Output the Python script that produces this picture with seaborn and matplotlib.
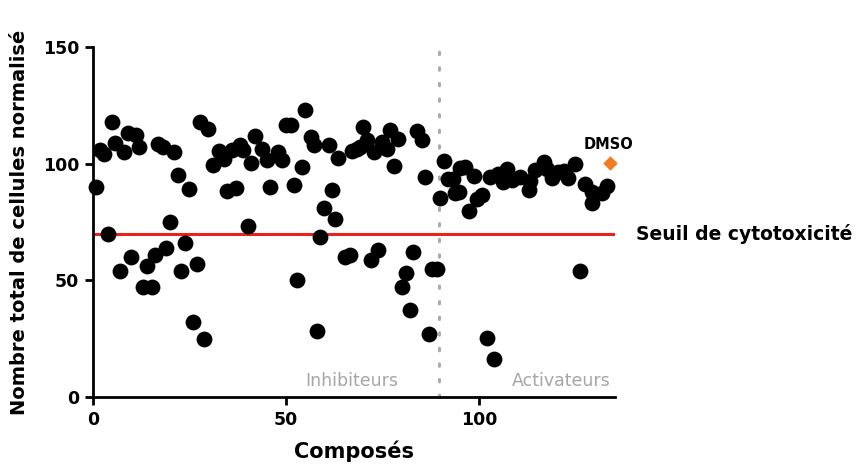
import numpy as np
import pandas as pd
import matplotlib
matplotlib.use("Agg")
import matplotlib.pyplot as plt
import seaborn as sns

# composés (index) et nombre total de cellules normalisé
compose_x = [
    0.9, 1.8, 2.8, 3.9, 4.8, 5.8, 6.9, 7.9, 9.0, 9.8,
    11.1, 12.0, 13.0, 13.9, 15.2, 16.0, 16.9, 18.2, 18.9, 19.9,
    21.0, 22.0, 22.9, 23.9, 24.9, 26.0, 27.0, 27.7, 28.8, 29.8,
    31.1, 32.5, 33.9, 34.6, 36.0, 37.0, 38.0, 38.9, 40.1, 40.8,
    41.9, 43.7, 44.9, 45.8, 47.9, 48.8, 50.0, 51.2, 51.9, 52.8,
    54.0, 54.9, 56.5, 57.2, 57.9, 58.8, 59.8, 61.0, 61.8, 62.6,
    63.5, 65.3, 66.4, 67.0, 68.3, 69.1, 69.8, 70.9, 71.9, 72.6,
    73.8, 74.7, 76.0, 76.9, 77.9, 78.8, 80.0, 81.0, 81.9, 82.9,
    83.8, 85.1, 85.8, 87.0, 87.8, 89.0,
    89.8, 90.8, 91.9, 93.2, 93.7, 94.6, 95.0, 96.2, 97.2, 98.5,
    99.3, 100.6, 101.9, 102.8, 103.8, 104.9, 106.2, 107.1, 108.3, 110.6,
    112.7, 113.1, 114.4, 116.6, 117.4, 118.7, 120.3, 121.8, 122.9, 124.7,
    125.9, 127.4, 129.2, 129.1, 131.6, 133.0,
]
cellules_y = [
    90, 106, 104, 70, 118, 109, 54, 105, 113, 60,
    112.5, 107, 47, 56, 47, 61, 108.5, 107, 64, 75,
    105, 95, 54, 66, 89, 32, 57, 118, 25, 115,
    99.5, 105.5, 102, 88.5, 106, 89.5, 108, 106, 73.5, 100.5,
    112, 106.5, 101.5, 90, 105, 101.5, 116.5, 116.5, 91, 50,
    98.5, 123, 111.5, 108, 28.5, 68.5, 81, 108.2, 88.7, 76.5,
    102.3, 60.2, 61, 105.4, 106.2, 107.2, 115.6, 110.2, 58.7, 105.1,
    63, 109.4, 106.2, 114.6, 99.2, 110.4, 47, 53.3, 37.3, 62,
    114, 110.2, 94.1, 27, 55, 55,
    85.1, 101.3, 93.3, 93.3, 87.3, 88, 98.1, 98.6, 79.6, 94.7,
    84.7, 86.8, 25.4, 94.1, 16.5, 95.8, 92.3, 97.6, 93, 94.2,
    88.7, 92.5, 97.3, 100.9, 97.6, 93.7, 96.6, 96.8, 94, 99.7,
    54, 91.5, 88, 83.3, 87.3, 90.3,
]
dmso_x = [133.8]
dmso_y = [100.3]

seuil = 70
separation = 89.5

df = pd.DataFrame({"Composés": compose_x, "Cellules": cellules_y})
df_dmso = pd.DataFrame({"Composés": dmso_x, "Cellules": dmso_y})

sns.set_style("ticks", {"axes.edgecolor": "black", "text.color": "black",
                        "axes.labelcolor": "black", "xtick.color": "black",
                        "ytick.color": "black"})
plt.rcParams["font.family"] = ["DejaVu Sans"]

fig = plt.figure(figsize=(8.61, 4.70), dpi=100)
ax = fig.add_axes([0.108, 0.155, 0.606, 0.745])

ax.axvline(separation, color="#ababab", lw=2.2, linestyle=(0, (0.8, 4.3)),
           dash_capstyle="round", zorder=1)
ax.axhline(seuil, color="#e8231f", lw=2.2, zorder=2)

sns.scatterplot(data=df, x="Composés", y="Cellules", ax=ax, s=130,
                color="black", edgecolor="black", linewidth=0, zorder=3,
                clip_on=False, legend=False)
sns.scatterplot(data=df_dmso, x="Composés", y="Cellules", ax=ax, s=55,
                marker="D", color="#f47a20", linewidth=0, zorder=4,
                clip_on=False, legend=False)

ax.set_xlim(0, 135)
ax.set_ylim(0, 150)
ax.set_xticks([0, 50, 100])
ax.set_yticks([0, 50, 100, 150])
sns.despine(ax=ax)
for sp in ["left", "bottom"]:
    ax.spines[sp].set_linewidth(2)
ax.tick_params(width=2, length=6, labelsize=12.5, pad=4, colors="black")
for lab in ax.get_xticklabels() + ax.get_yticklabels():
    lab.set_fontweight("bold")

ax.set_xlabel("Composés", fontsize=15, fontweight="bold", labelpad=8)
ax.set_ylabel("Nombre total de cellules normalisé", fontsize=14,
              fontweight="bold", labelpad=10)

ax.text(79, 3, "Inhibiteurs", color="#a6a6a6", fontsize=12.5,
        ha="right", va="bottom")
ax.text(133.8, 3, "Activateurs", color="#a6a6a6", fontsize=12.5,
        ha="right", va="bottom")
ax.text(133.5, 105, "DMSO", fontsize=10.5, fontweight="bold",
        ha="center", va="bottom")
ax.text(140.5, seuil, "Seuil de cytotoxicité", fontsize=13.5,
        fontweight="bold", ha="left", va="center", clip_on=False)

fig.savefig("out.png", dpi=100)
